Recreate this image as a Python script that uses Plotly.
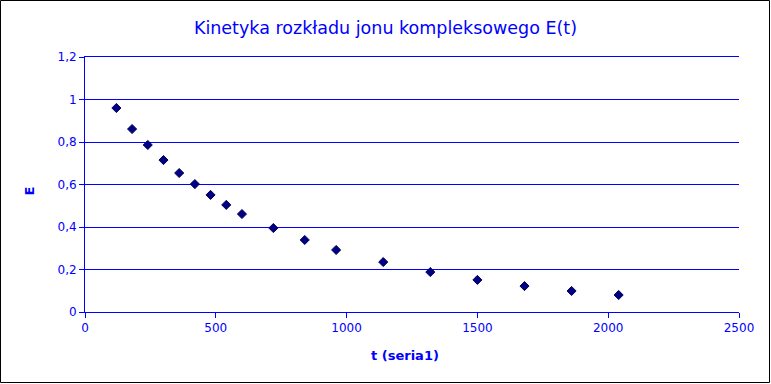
import plotly.graph_objects as go

t_values = [120, 180, 240, 300, 360, 420, 480, 540, 600, 720, 840, 960, 1140, 1320, 1500, 1680, 1860, 2040]
E_values = [0.960, 0.861, 0.786, 0.715, 0.654, 0.602, 0.551, 0.504, 0.461, 0.395, 0.339, 0.292, 0.235, 0.188, 0.151, 0.122, 0.099, 0.080]

W, H = 771, 384
L, R, T, B = 85, 32, 57, 72
pw, ph = W - L - R, H - T - B

blue = "#0000ff"
font = "DejaVu Sans"

fig = go.Figure()
fig.add_trace(go.Scatter(
    x=t_values, y=E_values, mode="markers", name="seria1",
    marker=dict(symbol="diamond", size=7, color="#000080",
                line=dict(color="#000060", width=1)),
))

fig.update_layout(
    width=W, height=H,
    margin=dict(l=L, r=R, t=T, b=B),
    paper_bgcolor="white", plot_bgcolor="white",
    separators=", ",
    showlegend=False,
    title=dict(text="Kinetyka rozkładu jonu kompleksowego E(t)",
               x=0.5, xanchor="center", y=1 - 28 / H, yanchor="middle",
               font=dict(family=font, size=17.5, color=blue)),
    font=dict(family=font, size=12, color=blue),
    xaxis=dict(range=[0, 2500], dtick=500, tick0=0, showgrid=False,
               showline=True, mirror=True, linecolor=blue, linewidth=1,
               ticks="outside", ticklen=5, tickcolor=blue,
               tickfont=dict(family=font, size=12, color=blue),
               zeroline=False),
    yaxis=dict(range=[0, 1.2], dtick=0.2, tick0=0, showgrid=True,
               gridcolor="rgb(0,0,255)", gridwidth=1,
               showline=True, linecolor=blue, linewidth=1,
               ticks="outside", ticklen=5, tickcolor=blue,
               tickfont=dict(family=font, size=12, color=blue),
               zeroline=False, tickformat=".1~f"),
)

# axis titles placed as annotations (offset as in the reference)
fig.add_annotation(text="<b>t (seria1)</b>", xref="paper", yref="paper",
                   x=(405 - L) / pw, y=-(355.5 - (H - B)) / ph,
                   xanchor="center", yanchor="middle", showarrow=False,
                   font=dict(family=font, size=13, color=blue))
fig.add_annotation(text="<b>E</b>", xref="paper", yref="paper",
                   x=(28.5 - L) / pw, y=((H - B) - 191) / ph, textangle=-90,
                   xanchor="center", yanchor="middle", showarrow=False,
                   font=dict(family=font, size=13, color=blue))

# black frame around whole chart
fig.add_shape(type="rect", xref="paper", yref="paper",
              x0=(-L + 0.5) / pw, x1=1 + (R - 1.5) / pw,
              y0=(-B + 1.5) / ph, y1=1 + (T - 0.5) / ph,
              line=dict(color="black", width=1), fillcolor="rgba(0,0,0,0)",
              layer="above")

fig.write_html("out.html", config={"displayModeBar": False},
               post_script="document.body.style.margin='0';document.body.style.padding='0';")
